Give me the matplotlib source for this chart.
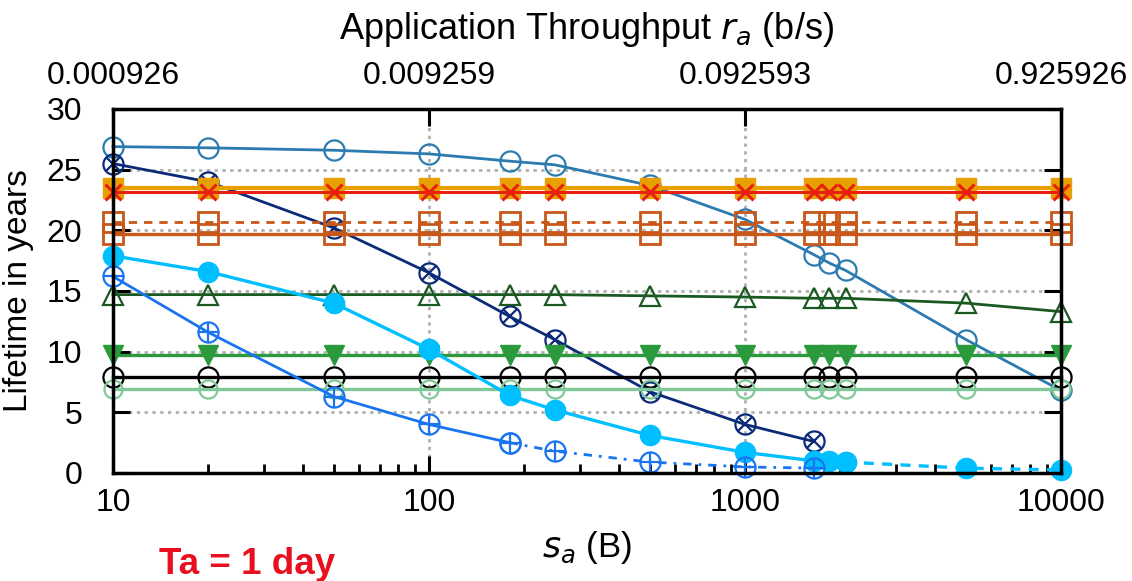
import matplotlib
matplotlib.use("Agg")
import matplotlib.pyplot as plt
from matplotlib.ticker import LogLocator, NullFormatter, FixedLocator, NullLocator

plt.rcParams['font.family'] = ['Liberation Sans', 'DejaVu Sans']
plt.rcParams['mathtext.fontset'] = 'dejavusans'

# ---- data ----
s_a = [10, 20, 50, 100, 180, 250, 500, 1000, 1650, 1850, 2080, 5000, 10000]
s_a_short = [10, 20, 50, 100, 180, 250, 500, 1000, 1650]

steel_open_circ = [26.9, 26.8, 26.6, 26.3, 25.7, 25.4, 23.7, 20.9, 18.0, 17.3, 16.7, 11.0, 6.8]
navy_circ_x = [25.5, 24.0, 20.2, 16.5, 12.9, 11.0, 6.7, 4.0, 2.6]
orange_sq = [23.45] * 13
red_x = [23.15] * 13
brown_dashed = [20.7] * 13
brown_solid = [19.7] * 13
dkgreen_tri = [14.7, 14.7, 14.7, 14.7, 14.7, 14.7, 14.6, 14.5, 14.4, 14.4, 14.4, 14.0, 13.3]
green_tri_down = [9.7] * 13
black_circ = [7.9] * 13
ltgreen_circ = [6.9] * 13
cyan_filled = [17.9, 16.6, 14.0, 10.2, 6.4, 5.2, 3.1, 1.7, 1.0, 1.0, 0.9, 0.4, 0.25]
blue_circ_plus = [16.2, 11.6, 6.3, 4.0, 2.5, 1.8, 0.9, 0.5, 0.4]

x_ticks = [10, 100, 1000, 10000]
x_tick_labels = ['10', '100', '1000', '10000']
top_tick_labels = ['0.000926', '0.009259', '0.092593', '0.925926']
y_ticks = [0, 5, 10, 15, 20, 25, 30]

# ---- figure ----
fig = plt.figure(figsize=(11.32, 5.81), dpi=100)
ax = fig.add_axes([0.0998, 0.1859, 0.8375, 0.6265])
ax.set_xscale('log')
ax.set_xlim(10, 10000)
ax.set_ylim(0, 30)

ms = 14.5
lw = 2.0
mew = 1.6
common = dict(clip_on=False, zorder=3)

# grid
for yv in y_ticks[1:-1]:
    ax.axhline(yv, color='#b0b0b0', lw=2, ls=(0, (1.2, 1.6)), zorder=1)
for xv in x_ticks[1:-1]:
    ax.axvline(xv, color='#b0b0b0', lw=2, ls=(0, (1.2, 1.6)), zorder=1)

# steel blue open circles
ax.plot(s_a, steel_open_circ, color='#2c7bb0', lw=lw, marker='o', ms=ms,
        mfc='none', mew=mew, **common)
# navy circle with x
ax.plot(s_a_short, navy_circ_x, color='#0b2a78', lw=lw, marker='o', ms=ms,
        mfc='none', mew=mew, **common)
ax.plot(s_a_short, navy_circ_x, color='#0b2a78', lw=0, marker='x', ms=ms * 0.7,
        mew=mew, **common)
# orange squares / red x
ax.plot(s_a, orange_sq, color='#e8a000', lw=3.0, marker='s', ms=ms,
        mfc='#e8a000', mec='#e8a000', **common)
ax.plot(s_a, red_x, color='#e82010', lw=2.2, marker='x', ms=ms * 0.75,
        mew=2.2, **common)
# brown squares
ax.plot(s_a, brown_dashed, color='#c8581a', lw=lw, ls=(0, (3, 2.5)), marker='s', ms=ms,
        mfc='none', mew=mew + 0.4, **common)
ax.plot(s_a, brown_solid, color='#c8581a', lw=lw + 0.4, marker='s', ms=ms,
        mfc='none', mew=mew + 0.4, **common)
# dark green triangles
ax.plot(s_a, dkgreen_tri, color='#1a5a22', lw=lw, marker='^', ms=ms * 0.95,
        mfc='none', mew=mew, **common)
# green filled down triangles
ax.plot(s_a, green_tri_down, color='#2a9a3c', lw=lw + 0.4, marker='v', ms=ms,
        mfc='#2a9a3c', **common)
# black circles
ax.plot(s_a, black_circ, color='black', lw=lw + 0.4, marker='o', ms=ms,
        mfc='none', mew=mew, **common)
# light green circles
ax.plot(s_a, ltgreen_circ, color='#80c898', lw=lw + 0.4, marker='o', ms=ms * 0.9,
        mfc='none', mew=mew, **common)
# cyan filled circles (solid then dashed)
ax.plot(s_a[:11], cyan_filled[:11], color='#00bfff', lw=lw + 0.4, marker='o', ms=ms,
        mfc='#00bfff', **common)
ax.plot(s_a[10:], cyan_filled[10:], color='#00bfff', lw=lw + 0.4, ls=(0, (3, 2.5)),
        marker='o', ms=ms, mfc='#00bfff', **common)
# blue circle plus (solid then dash-dot)
ax.plot(s_a_short[:5], blue_circ_plus[:5], color='#1a74f0', lw=lw, marker='o', ms=ms,
        mfc='none', mew=mew, **common)
ax.plot(s_a_short[4:], blue_circ_plus[4:], color='#1a74f0', lw=lw, ls=(0, (3, 2.5, 1, 2.5)),
        marker='o', ms=ms, mfc='none', mew=mew, **common)
ax.plot(s_a_short, blue_circ_plus, color='#1a74f0', lw=0, marker='+', ms=ms,
        mew=mew, **common)

# axes styling
for sp in ax.spines.values():
    sp.set_linewidth(2.5)
    sp.set_zorder(4)
ax.set_xticks(x_ticks)
ax.set_xticklabels(x_tick_labels)
ax.xaxis.set_minor_locator(LogLocator(base=10, subs=range(2, 10)))
ax.xaxis.set_minor_formatter(NullFormatter())
ax.set_yticks(y_ticks)
ax.tick_params(axis='both', which='major', direction='in', length=12, width=2.2,
               labelsize=23)
ax.tick_params(axis='x', which='major', pad=11)
ax.tick_params(axis='x', which='minor', direction='in', length=6.5, width=2.0)
ax.tick_params(axis='y', right=True, pad=22)
ax.tick_params(axis='x', top=False)

ax.set_ylabel('Lifetime in years', fontsize=24, labelpad=9)
ax.set_xlabel('$s_a$ (B)', fontsize=25, labelpad=8)

# top axis
ax2 = ax.twiny()
ax2.set_xscale('log')
ax2.set_xlim(ax.get_xlim())
ax2.xaxis.set_major_locator(FixedLocator(x_ticks))
ax2.set_xticklabels(top_tick_labels)
ax2.xaxis.set_minor_locator(NullLocator())
ax2.tick_params(axis='x', which='major', direction='in', length=12, width=2.2,
                labelsize=23, pad=13)
for sp in ax2.spines.values():
    sp.set_visible(False)
ax2.set_xlabel('Application Throughput $r_a$ (b/s)', fontsize=26, labelpad=16)

fig.text(0.1405, 0.012, 'Ta = 1 day', color='#e8101e', fontsize=26.5,
         fontweight='bold', va='baseline')

fig.savefig('out.png', dpi=100)
